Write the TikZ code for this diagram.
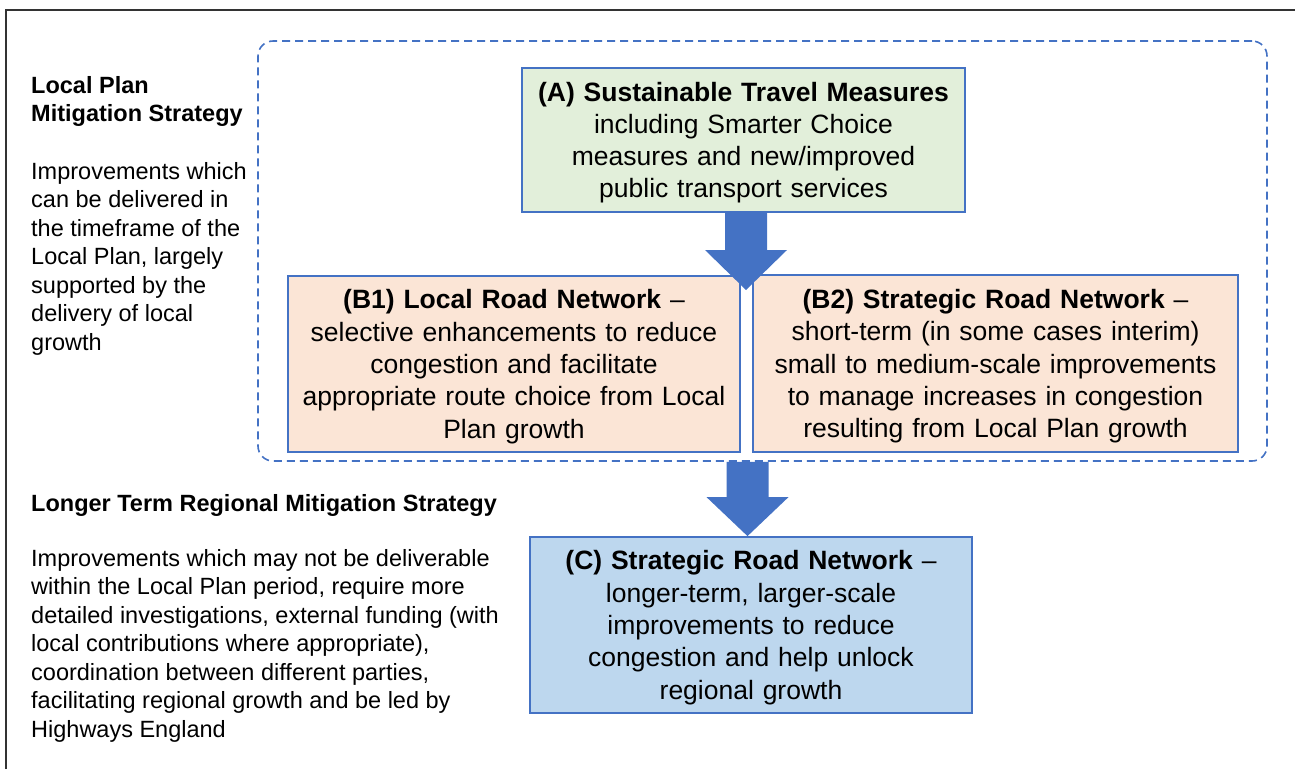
\documentclass[tikz,border=0pt]{standalone}
\usepackage{fontspec}
\setmainfont{Liberation Sans}
\usetikzlibrary{calc}
\definecolor{frameblue}{HTML}{4472C4}
\definecolor{greenfill}{HTML}{E2EFDA}
\definecolor{peachfill}{HTML}{FBE5D6}
\definecolor{bluefill}{HTML}{BDD7EE}
\definecolor{framegray}{HTML}{333333}
% taller first line, so the text block sits a little lower in its box
\newcommand{\firstline}{\rule{0pt}{24.5pt}}

\begin{document}
\begin{tikzpicture}[x=1pt,y=-1pt,
  measurebox/.style={draw=frameblue, line width=1.8pt, inner sep=0pt, align=center,
    font=\fontsize{26.5}{32.3}\selectfont},
  sidetext/.style={inner sep=0pt, anchor=base west, font=\fontsize{23.5}{28.5}\selectfont},
  blockarrow/.style={fill=frameblue, draw=none},
  groupframe/.style={draw=frameblue, line width=1.6pt, dash pattern=on 8pt off 5pt,
    rounded corners=15pt, inner sep=0pt},
]
\useasboundingbox (0,0) rectangle (1295,769);

% page frame (open to the right and bottom)
\draw[framegray, line width=2.2pt] (6,769) -- (6,10) -- (1295,10);

% dashed frame around the local plan measures
\node[groupframe, minimum width=1009pt, minimum height=420pt] (localgroup) at (762.5,251) {};

% measure boxes
\node[measurebox, fill=greenfill, minimum width=443pt, minimum height=144pt, text width=433pt]
  (A) at (743.5,140)
  {\firstline\textbf{(A) Sustainable Travel Measures}\\including Smarter Choice\\measures and new/improved\\public transport services};

\node[measurebox, fill=peachfill, minimum width=452pt, minimum height=176pt, text width=442pt]
  (B1) at (514,364)
  {\firstline\textbf{(B1) Local Road Network} --\\selective enhancements to reduce\\congestion and facilitate\\appropriate route choice from Local\\Plan growth};

\node[measurebox, fill=peachfill, minimum width=485pt, minimum height=177pt, text width=475pt]
  (B2) at (995.5,363.5)
  {\firstline\textbf{(B2) Strategic Road Network} --\\short-term (in some cases interim)\\small to medium-scale improvements\\to manage increases in congestion\\resulting from Local Plan growth};

\node[measurebox, fill=bluefill, minimum width=442pt, minimum height=176pt, text width=432pt]
  (C) at (751,625)
  {\firstline\textbf{(C) Strategic Road Network} --\\longer-term, larger-scale\\improvements to reduce\\congestion and help unlock\\regional growth};

% block arrows between the stages
\coordinate (t1) at ($(A.south)+(2.5,0)$);
\coordinate (h1) at (t1 |- 0,290);
\fill[blockarrow] ($(t1)+(-21,0)$) -- ($(t1)+(21,0)$) -- ($(h1)+(21,-40)$) -- ($(h1)+(41,-40)$)
  -- (h1) -- ($(h1)+(-41,-40)$) -- ($(h1)+(-21,-40)$) -- cycle;

\coordinate (t2) at (747.5,460 |- localgroup.south);
\coordinate (h2) at (t2 |- C.north);
\fill[blockarrow] ($(t2)+(-21,0)$) -- ($(t2)+(21,0)$) -- ($(h2)+(21,-39)$) -- ($(h2)+(41,-39)$)
  -- (h2) -- ($(h2)+(-41,-39)$) -- ($(h2)+(-21,-39)$) -- cycle;

% strategy descriptions
\node[sidetext] (lpHead) at (31,93)
  {\bfseries\begin{tabular}[t]{@{}l@{}}Local Plan\\Mitigation Strategy\end{tabular}};
\node[sidetext] (lpText) at (31,179)
  {\begin{tabular}[t]{@{}l@{}}Improvements which\\can be delivered in\\the timeframe of the\\Local Plan, largely\\supported by the\\delivery of local\\growth\end{tabular}};

\node[sidetext] (rgHead) at (31,511)
  {\bfseries Longer Term Regional Mitigation Strategy};
\node[sidetext] (rgText) at (31,566)
  {\begin{tabular}[t]{@{}l@{}}Improvements which may not be deliverable\\within the Local Plan period, require more\\detailed investigations, external funding (with\\local contributions where appropriate),\\coordination between different parties,\\facilitating regional growth and be led by\\Highways England\end{tabular}};
\end{tikzpicture}
\end{document}
